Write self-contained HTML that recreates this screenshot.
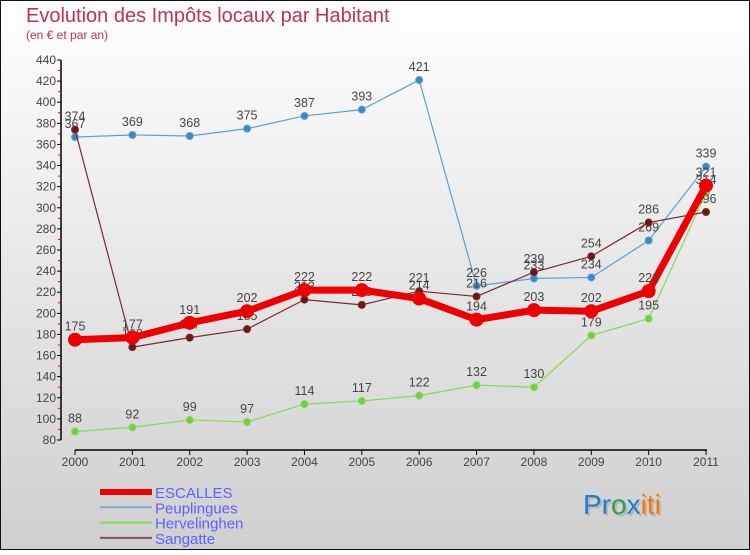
<!DOCTYPE html>
<html><head><meta charset="utf-8"><style>
body{margin:0;width:750px;height:550px;overflow:hidden;font-family:"Liberation Sans",sans-serif}
</style></head><body>
<svg width="750" height="550" xmlns="http://www.w3.org/2000/svg">
<defs><linearGradient id="bg" x1="0" y1="0" x2="0" y2="1"><stop offset="0" stop-color="#ffffff"/><stop offset="1" stop-color="#cfcfcf"/></linearGradient></defs>
<rect x="0.5" y="0.5" width="749" height="549" fill="url(#bg)" stroke="#111"/>
<text x="26" y="22" font-size="20" fill="#c0305a">Evolution des Impôts locaux par Habitant</text>
<text x="26" y="39" font-size="12" fill="#c0305a">(en € et par an)</text>
<g id="axes"></g>
<g id="series"></g>
<g id="legend"></g>
<text x="585" y="516" font-size="28" fill="#999" opacity="0.5">Proxiti</text>
<text x="583" y="514" font-size="28"><tspan fill="#1e7fd0">Pr</tspan><tspan fill="#2aa14a">o</tspan><tspan fill="#1e7fd0">x</tspan><tspan fill="#f07a10">iti</tspan></text>
</svg>
<script>
const years=["2000","2001","2002","2003","2004","2005","2006","2007","2008","2009","2010","2011"];
const yTicks=[80,100,120,140,160,180,200,220,240,260,280,300,320,340,360,380,400,420,440];
const escalles=[175,177,191,202,222,222,214,194,203,202,221,321];
const peuplingues=[367,369,368,375,387,393,421,226,233,234,269,339];
const hervelinghen=[88,92,99,97,114,117,122,132,130,179,195,314];
const sangatte=[374,168,177,185,213,208,221,216,239,254,286,296];
const NS="http://www.w3.org/2000/svg";
function X(i){return 75+i*(706-75)/11;}
function Y(v){return 440-(v-80)*(380/360);}
function mk(t,a,p){const e=document.createElementNS(NS,t);for(const k in a)e.setAttribute(k,a[k]);p.appendChild(e);return e;}
const ax=document.getElementById('axes');
let l=mk('line',{x1:61,y1:Y(440),x2:61,y2:Y(80),stroke:'#000','stroke-width':1.5},ax);


l=mk('line',{x1:75,y1:450,x2:707,y2:450,stroke:'#000','stroke-width':1.5},ax);


yTicks.forEach((v,i)=>{
 mk('line',{x1:57,y1:Y(v),x2:61,y2:Y(v),stroke:'#000'},ax);
 if(i<yTicks.length-1)mk('line',{x1:58,y1:Y(v+10),x2:61,y2:Y(v+10),stroke:'#e00'},ax);
 const t=mk('text',{x:56,y:Y(v)+4,'font-size':12,fill:'#444','text-anchor':'end'},ax);
 t.textContent=v;
 
 
});
years.forEach((y,i)=>{
 mk('line',{x1:X(i),y1:450,x2:X(i),y2:455,stroke:'#000'},ax);
 const t=mk('text',{x:X(i),y:466,'font-size':12,fill:'#444','text-anchor':'middle'},ax);
 t.textContent=y;
 
 
});
const sg=document.getElementById('series');
function series(name,data,color,dot,w,r){
 const g=mk('g',{},sg);
 
 
 mk('polyline',{points:data.map((v,i)=>X(i)+','+Y(v)).join(' '),fill:'none',stroke:color,'stroke-width':w,'stroke-linejoin':'round'},g);
 data.forEach((v,i)=>{
  const c=mk('circle',{cx:X(i),cy:Y(v),r:r,fill:dot,stroke:color,'stroke-width':1},g);
  
  
  const t=mk('text',{x:X(i),y:Y(v)-9,'font-size':12.5,fill:'#444','text-anchor':'middle'},g);
  t.textContent=v;
  
  
 });
}
series('peuplingues',peuplingues,'#5aa0d8','#3a88c8',1.2,3.5);
series('hervelinghen',hervelinghen,'#88d860','#78cc40',1.2,3.5);
series('sangatte',sangatte,'#7a2a2a','#6a1818',1.2,3.5);
series('escalles',escalles,'#ee0000','#ee0000',7,6.5);
const lg=document.getElementById('legend');
const items=[['ESCALLES','#ee0000',6],['Peuplingues','#7aaed8',2],['Hervelinghen','#88d860',2],['Sangatte','#8a5050',2]];
items.forEach((it,i)=>{
 const y=492+i*15.3;
 const g=mk('g',{},lg);
 
 
 mk('line',{x1:100,y1:y,x2:152,y2:y,stroke:it[1],'stroke-width':it[2]},g);
 const t=mk('text',{x:155,y:y+6,'font-size':15,fill:'#6060ff'},g);
 t.textContent=it[0];
});
</script>
</body></html>
